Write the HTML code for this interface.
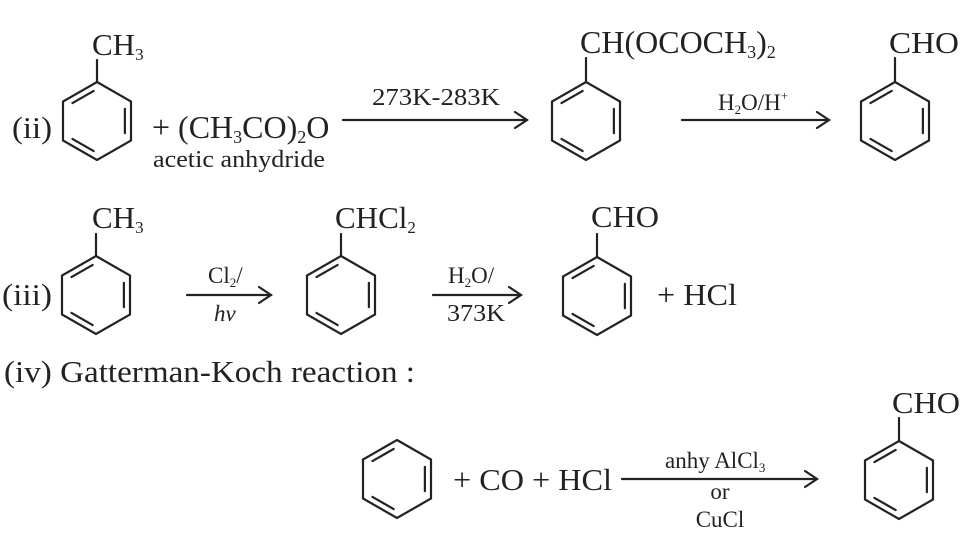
<!DOCTYPE html>
<html><head><meta charset="utf-8"><style>
html,body{margin:0;padding:0;background:#fff;}
svg{display:block;}
text{font-family:"Liberation Serif",serif;fill:#222;}
</style></head><body>
<svg id="s" width="964" height="537" viewBox="0 0 964 537" xmlns="http://www.w3.org/2000/svg">
<g stroke="#222" stroke-width="2.2" fill="none" stroke-linecap="round" id="g">
<line x1="97" y1="82" x2="97" y2="60"/>
<line x1="586" y1="82" x2="586" y2="58"/>
<line x1="895" y1="82" x2="895" y2="58"/>
<line x1="96" y1="256" x2="96" y2="234"/>
<line x1="341" y1="256" x2="341" y2="234"/>
<line x1="597" y1="257" x2="597" y2="234"/>
<line x1="899" y1="441" x2="899" y2="418"/>
<line x1="343" y1="120" x2="527" y2="120"/><polyline points="515,112 527,120 515,128"/>
<line x1="682" y1="120" x2="829" y2="120"/><polyline points="817,112 829,120 817,128"/>
<line x1="187" y1="295" x2="271" y2="295"/><polyline points="259,287 271,295 259,303"/>
<line x1="433" y1="295" x2="521" y2="295"/><polyline points="509,287 521,295 509,303"/>
<line x1="622" y1="479" x2="817" y2="479"/><polyline points="805,471 817,479 805,487"/>
</g>
<g font-size="31">
<text x="12" y="138" textLength="40" lengthAdjust="spacingAndGlyphs">(ii)</text>
<text x="92" y="55">CH<tspan font-size="17" dy="5">3</tspan></text>
<text x="152" y="138" font-size="32">+ (CH<tspan font-size="18" dy="5">3</tspan><tspan dy="-5">CO)</tspan><tspan font-size="18" dy="5">2</tspan><tspan dy="-5">O</tspan></text>
<text x="153" y="167" font-size="24" textLength="172" lengthAdjust="spacingAndGlyphs">acetic anhydride</text>
<text x="372" y="105" font-size="24" textLength="128" lengthAdjust="spacingAndGlyphs">273K-283K</text>
<text x="580" y="53" font-size="32">CH(OCOCH<tspan font-size="18" dy="5">3</tspan><tspan dy="-5">)</tspan><tspan font-size="18" dy="5">2</tspan></text>
<text x="718" y="110" font-size="23">H<tspan font-size="13" dy="4">2</tspan><tspan dy="-4">O/H</tspan><tspan font-size="13" dy="-10">+</tspan></text>
<text x="889" y="53" textLength="70" lengthAdjust="spacingAndGlyphs">CHO</text>

<text x="2" y="305" textLength="50" lengthAdjust="spacingAndGlyphs">(iii)</text>
<text x="92" y="228">CH<tspan font-size="17" dy="5">3</tspan></text>
<text x="208" y="283" font-size="23">Cl<tspan font-size="13" dy="4">2</tspan><tspan dy="-4">/</tspan></text>
<text x="214" y="321" font-size="23" font-style="italic">hv</text>
<text x="335" y="228">CHCl<tspan font-size="17" dy="5">2</tspan></text>
<text x="448" y="283" font-size="23">H<tspan font-size="13" dy="4">2</tspan><tspan dy="-4">O/</tspan></text>
<text x="447" y="321" font-size="24" textLength="58" lengthAdjust="spacingAndGlyphs">373K</text>
<text x="591" y="227" textLength="68" lengthAdjust="spacingAndGlyphs">CHO</text>
<text x="657" y="305" textLength="80" lengthAdjust="spacingAndGlyphs">+ HCl</text>

<text x="4" y="382" textLength="411" lengthAdjust="spacingAndGlyphs">(iv) Gatterman-Koch reaction :</text>

<text x="453" y="490" textLength="159" lengthAdjust="spacingAndGlyphs">+ CO + HCl</text>
<text x="665" y="468" font-size="23">anhy AlCl<tspan font-size="13" dy="4">3</tspan></text>
<text x="720" y="499" font-size="23" text-anchor="middle">or</text>
<text x="720" y="527" font-size="23" text-anchor="middle">CuCl</text>
<text x="892" y="413" textLength="68" lengthAdjust="spacingAndGlyphs">CHO</text>
</g>
</svg>
<script>
var g=document.getElementById('g');
function L(a,b){var l=document.createElementNS('http://www.w3.org/2000/svg','line');l.setAttribute('x1',a[0]);l.setAttribute('y1',a[1]);l.setAttribute('x2',b[0]);l.setAttribute('y2',b[1]);g.appendChild(l);}
function ring(cx,cy){var R=39,W=34;
var v=[[cx,cy-R],[cx+W,cy-R/2],[cx+W,cy+R/2],[cx,cy+R],[cx-W,cy+R/2],[cx-W,cy-R/2]];
var p=v.map(function(q){return q[0]+','+q[1]}).join(' ');
var pg=document.createElementNS('http://www.w3.org/2000/svg','polygon');pg.setAttribute('points',p);g.appendChild(pg);
[[5,0],[1,2],[3,4]].forEach(function(e){
var a=v[e[0]],b=v[e[1]],k=0.82;
var ia=[cx+(a[0]-cx)*k,cy+(a[1]-cy)*k],ib=[cx+(b[0]-cx)*k,cy+(b[1]-cy)*k];
var s=0.12;
L([ia[0]+(ib[0]-ia[0])*s,ia[1]+(ib[1]-ia[1])*s],[ib[0]-(ib[0]-ia[0])*s,ib[1]-(ib[1]-ia[1])*s]);
});}
[[97,121],[586,121],[895,121],[96,295],[341,295],[597,296],[397,479],[899,480]].forEach(function(c){ring(c[0],c[1]);});
</script>
</body></html>
